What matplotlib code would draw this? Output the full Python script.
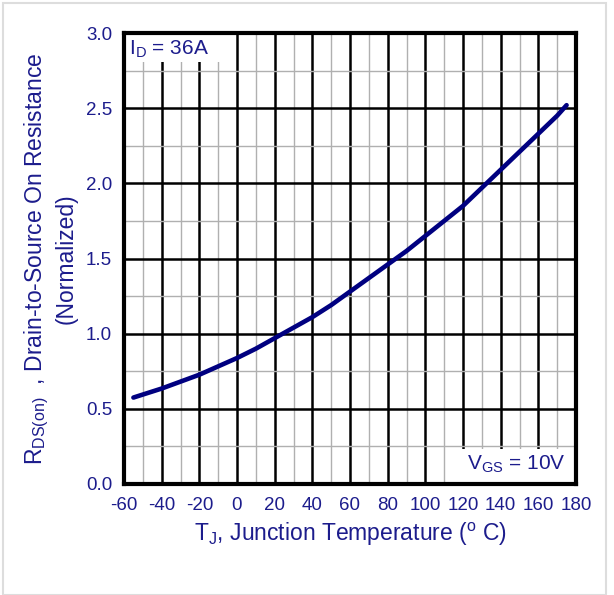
import numpy as np
import matplotlib
matplotlib.use("Agg")
import matplotlib.pyplot as plt
from matplotlib.patches import Rectangle

# values
temp = [-55, -50, -40, -20, 0, 10, 20, 30, 40, 50, 60, 70, 80, 90, 100,
        110, 120, 130, 140, 150, 160, 170, 175]
rds = [0.575, 0.595, 0.635, 0.727, 0.838, 0.90, 0.97, 1.04, 1.11, 1.19,
       1.28, 1.37, 1.46, 1.55, 1.65, 1.75, 1.85, 1.97, 2.09, 2.21, 2.33,
       2.45, 2.52]
xticks = np.arange(-60, 181, 20)
yticks = [0.0, 0.5, 1.0, 1.5, 2.0, 2.5, 3.0]

navy = "#1c1c8c"
plt.rcParams['font.family'] = ['Liberation Sans', 'DejaVu Sans']

fig = plt.figure(figsize=(6.14, 5.95), dpi=100)
ax = fig.add_axes([124/614, 1-484/595, 452/614, 451/595])

ax.plot(temp, rds, color="#000080", lw=3.3, zorder=4, solid_capstyle='round')

ax.set_xlim(-60, 180)
ax.set_ylim(0, 3.0)
ax.set_xticks(xticks)
ax.set_xticks(np.arange(-60, 181, 10), minor=True)
ax.set_yticks(yticks)
ax.set_yticks(np.arange(0, 3.01, 0.25), minor=True)
ax.set_xticklabels([str(t) for t in xticks])
ax.set_yticklabels(["%.1f" % v for v in yticks])
ax.grid(which='minor', color="#b0b0b0", lw=1.0)
ax.grid(which='major', color="black", lw=1.8)
ax.tick_params(which='both', length=0, labelsize=13.5, labelcolor=navy)
ax.tick_params(axis='x', pad=9)
ax.tick_params(axis='y', pad=8.5)
for s in ax.spines.values():
    s.set_linewidth(3)
    s.set_zorder(5)

# white label boxes hiding the grid
ax.add_patch(Rectangle((-60, 2.81), 55, 0.19, facecolor='white', edgecolor='none', zorder=3))
ax.add_patch(Rectangle((115, 0), 65, 0.235, facecolor='white', edgecolor='none', zorder=3))
ax.text(-57.5, 2.895, r"I$_\mathregular{D}$ = 36A", color=navy, fontsize=15,
        va='center', ha='left', zorder=4)
ax.text(174.5, 0.13, r"V$_\mathregular{GS}$ = 10V", color=navy, fontsize=15,
        va='center', ha='right', zorder=4)

ax.set_xlabel(r"T$_\mathregular{J}$, Junction Temperature ($^\mathregular{o}$ C)",
              color=navy, fontsize=16.5, labelpad=5)
ax.set_ylabel("R$_\\mathregular{DS(on)}$  , Drain-to-Source On Resistance\n(Normalized)",
              color=navy, fontsize=16.5, labelpad=6, linespacing=1.22)

fig.patches.append(Rectangle((3/614, 0), 603/614, 1-3/595, transform=fig.transFigure,
                             facecolor='none', edgecolor='#dddddd', lw=1.5))

fig.savefig("out.png", dpi=100)
